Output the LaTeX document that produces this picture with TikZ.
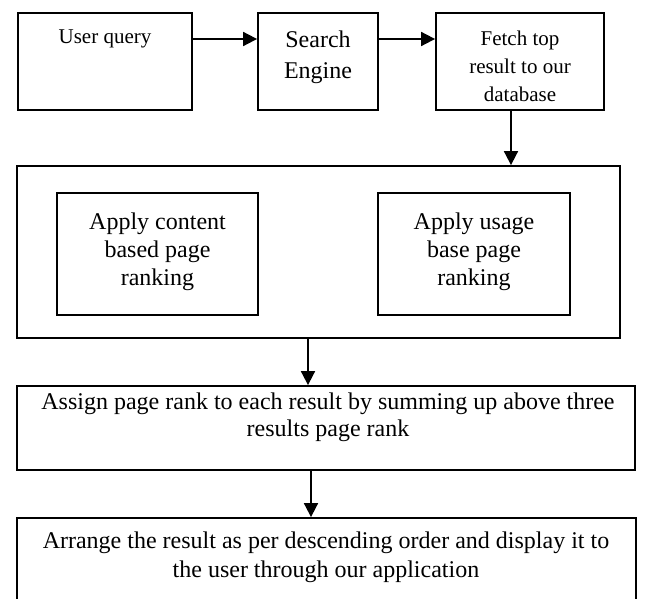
\documentclass[tikz,border=0pt]{standalone}
\usepackage{fontspec}
\setmainfont{Liberation Serif}
\usetikzlibrary{arrows.meta}
\begin{document}
\begin{tikzpicture}[x=1pt,y=-1pt,
  box/.style={draw,line width=1.8pt,inner sep=0pt},
  txt/.style={align=center,inner sep=0pt,font=\fontsize{24}{28}\selectfont},
  smalltxt/.style={align=center,inner sep=0pt,font=\fontsize{21}{28}\selectfont},
  arr/.style={line width=1.8pt,-{Triangle[length=14pt,width=14pt]}}]
\useasboundingbox (0,0) rectangle (649,599);
% boxes
\node[box,minimum width=174pt,minimum height=97pt] (uq) at (105,61.5) {};
\node[box,minimum width=120pt,minimum height=97pt] (se) at (318,61.5) {};
\node[box,minimum width=168pt,minimum height=97pt] (fe) at (520,61.5) {};
\node[box,minimum width=603pt,minimum height=172pt] (outer) at (318.5,252) {};
\node[box,minimum width=201pt,minimum height=122pt] (il) at (157.5,254) {};
\node[box,minimum width=192pt,minimum height=122pt] (ir) at (474,254) {};
\node[box,minimum width=618pt,minimum height=84pt] (as) at (326,428) {};
\node[box,minimum width=619pt,minimum height=92pt] (ar) at (326.5,564) {};
% texts
\node[smalltxt] (uqt) at (105,39) {User query};
\node[txt,font=\fontsize{24}{31}\selectfont] (set) at (318,57.5) {Search\\Engine};
\node[smalltxt] (fet) at (520,66.5) {Fetch top\\result to our\\database};
\node[txt] (ilt) at (157.5,251.5) {Apply content\\based page\\ranking};
\node[txt] (irt) at (474,251.5) {Apply usage\\base page\\ranking};
\node[txt,font=\fontsize{24}{27}\selectfont] (ast) at (328,417) {Assign page rank to each result by summing up above three\\results page rank};
\node[txt,font=\fontsize{24}{29}\selectfont] (art) at (326,557.5) {Arrange the result as per descending order and display it to\\the user through our application};
% connectors
\coordinate (c1) at (511,0);
\coordinate (c2) at (308,0);
\coordinate (c3) at (311,0);
\draw[arr] (uq.east |- uqt) -- (se.west |- uqt);
\draw[arr] (se.east |- uqt) -- (fe.west |- uqt);
\draw[arr] (fe.south -| c1) -- (outer.north -| c1);
\draw[arr] (outer.south -| c2) -- (as.north -| c2);
\draw[arr] (as.south -| c3) -- (ar.north -| c3);
\end{tikzpicture}
\end{document}
